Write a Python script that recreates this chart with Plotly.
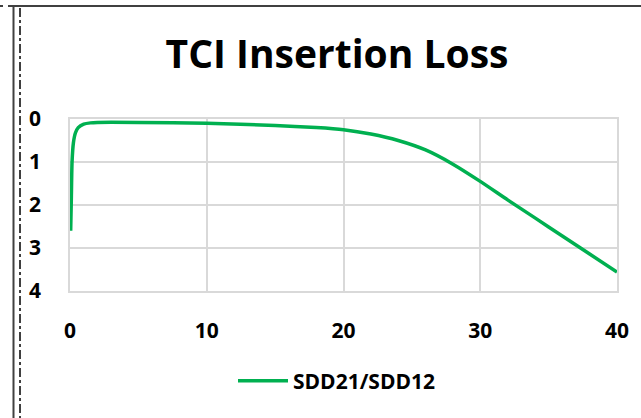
import plotly.graph_objects as go

W, H = 641, 418
ML, MR, MT, MB = 70, 24, 119, 127

freq_ghz = [0.05, 0.1, 0.15, 0.25, 0.4, 0.6, 1.0, 1.5, 2, 5, 10, 15, 18, 20, 22, 24, 26, 28, 30, 32, 34, 36, 38, 40]
loss_db = [2.6, 1.8, 1.0, 0.55, 0.32, 0.2, 0.12, 0.09, 0.08, 0.08, 0.1, 0.15, 0.2, 0.25, 0.35, 0.5, 0.72, 1.05, 1.45, 1.88, 2.3, 2.72, 3.14, 3.56]
series_name = "SDD21/SDD12"
title_text = "TCI Insertion Loss"
x_ticks = [0, 10, 20, 30, 40]
y_ticks = [0, 1, 2, 3, 4]

FONT = "Open Sans"
PW = W - ML - MR
PH = H - MT - MB


def px(xp):
    return (xp - ML) / PW


def py(yp):
    return (H - MB - yp) / PH


fig = go.Figure()
fig.add_trace(go.Scatter(
    x=freq_ghz, y=loss_db, mode="lines", name="<b>" + series_name + "</b>",
    line=dict(color="#00B050", width=3.5, shape="spline", smoothing=0.6),
))

grid = "#D9D9D9"
fig.update_layout(
    width=W, height=H,
    margin=dict(l=ML, r=MR, t=MT, b=MB),
    paper_bgcolor="white", plot_bgcolor="white",
    font=dict(family=FONT, color="black"),
    title=dict(text="<b>" + title_text + "</b>", x=px(337), xref="paper", xanchor="center",
               y=1 - 54 / H, yanchor="middle", font=dict(size=39, family=FONT, color="black")),
    xaxis=dict(range=[0, 40], tickvals=x_ticks, ticktext=["<b>%d</b>" % v for v in x_ticks],
               showgrid=True, gridcolor=grid, gridwidth=1.5, zeroline=False,
               showline=True, linecolor=grid, linewidth=1.5, mirror=True,
               ticks="", ticklabelstandoff=20, tickfont=dict(size=21, family=FONT)),
    yaxis=dict(range=[4, 0], tickvals=y_ticks, ticktext=["<b>%d</b>" % v for v in y_ticks],
               showgrid=True, gridcolor=grid, gridwidth=1.5, zeroline=False,
               showline=True, linecolor=grid, linewidth=1.5, mirror=True,
               ticks="", ticklabelstandoff=23, tickfont=dict(size=21, family=FONT)),
    showlegend=True,
    legend=dict(orientation="h", x=px(337), xanchor="center", y=py(381), yanchor="middle",
                font=dict(size=21, family=FONT), itemwidth=50, bgcolor="rgba(0,0,0,0)"),
)

# outer frame decorations
frame = "#404040"
fig.add_shape(type="line", xref="paper", yref="paper", x0=px(8), x1=px(641), y0=py(6), y1=py(6),
              line=dict(color=frame, width=2))
fig.add_shape(type="line", xref="paper", yref="paper", x0=px(0), x1=px(3), y0=py(6), y1=py(6),
              line=dict(color=frame, width=2))
fig.add_shape(type="line", xref="paper", yref="paper", x0=px(13.5), x1=px(13.5), y0=py(6), y1=py(418),
              line=dict(color=frame, width=2))
fig.add_shape(type="line", xref="paper", yref="paper", x0=px(20), x1=px(20), y0=py(8), y1=py(418),
              line=dict(color="black", width=1.5, dash="dashdot"))

fig.write_html("out.html", config={"displayModeBar": False},
               post_script="document.body.style.margin='0';document.body.style.overflow='hidden';")
